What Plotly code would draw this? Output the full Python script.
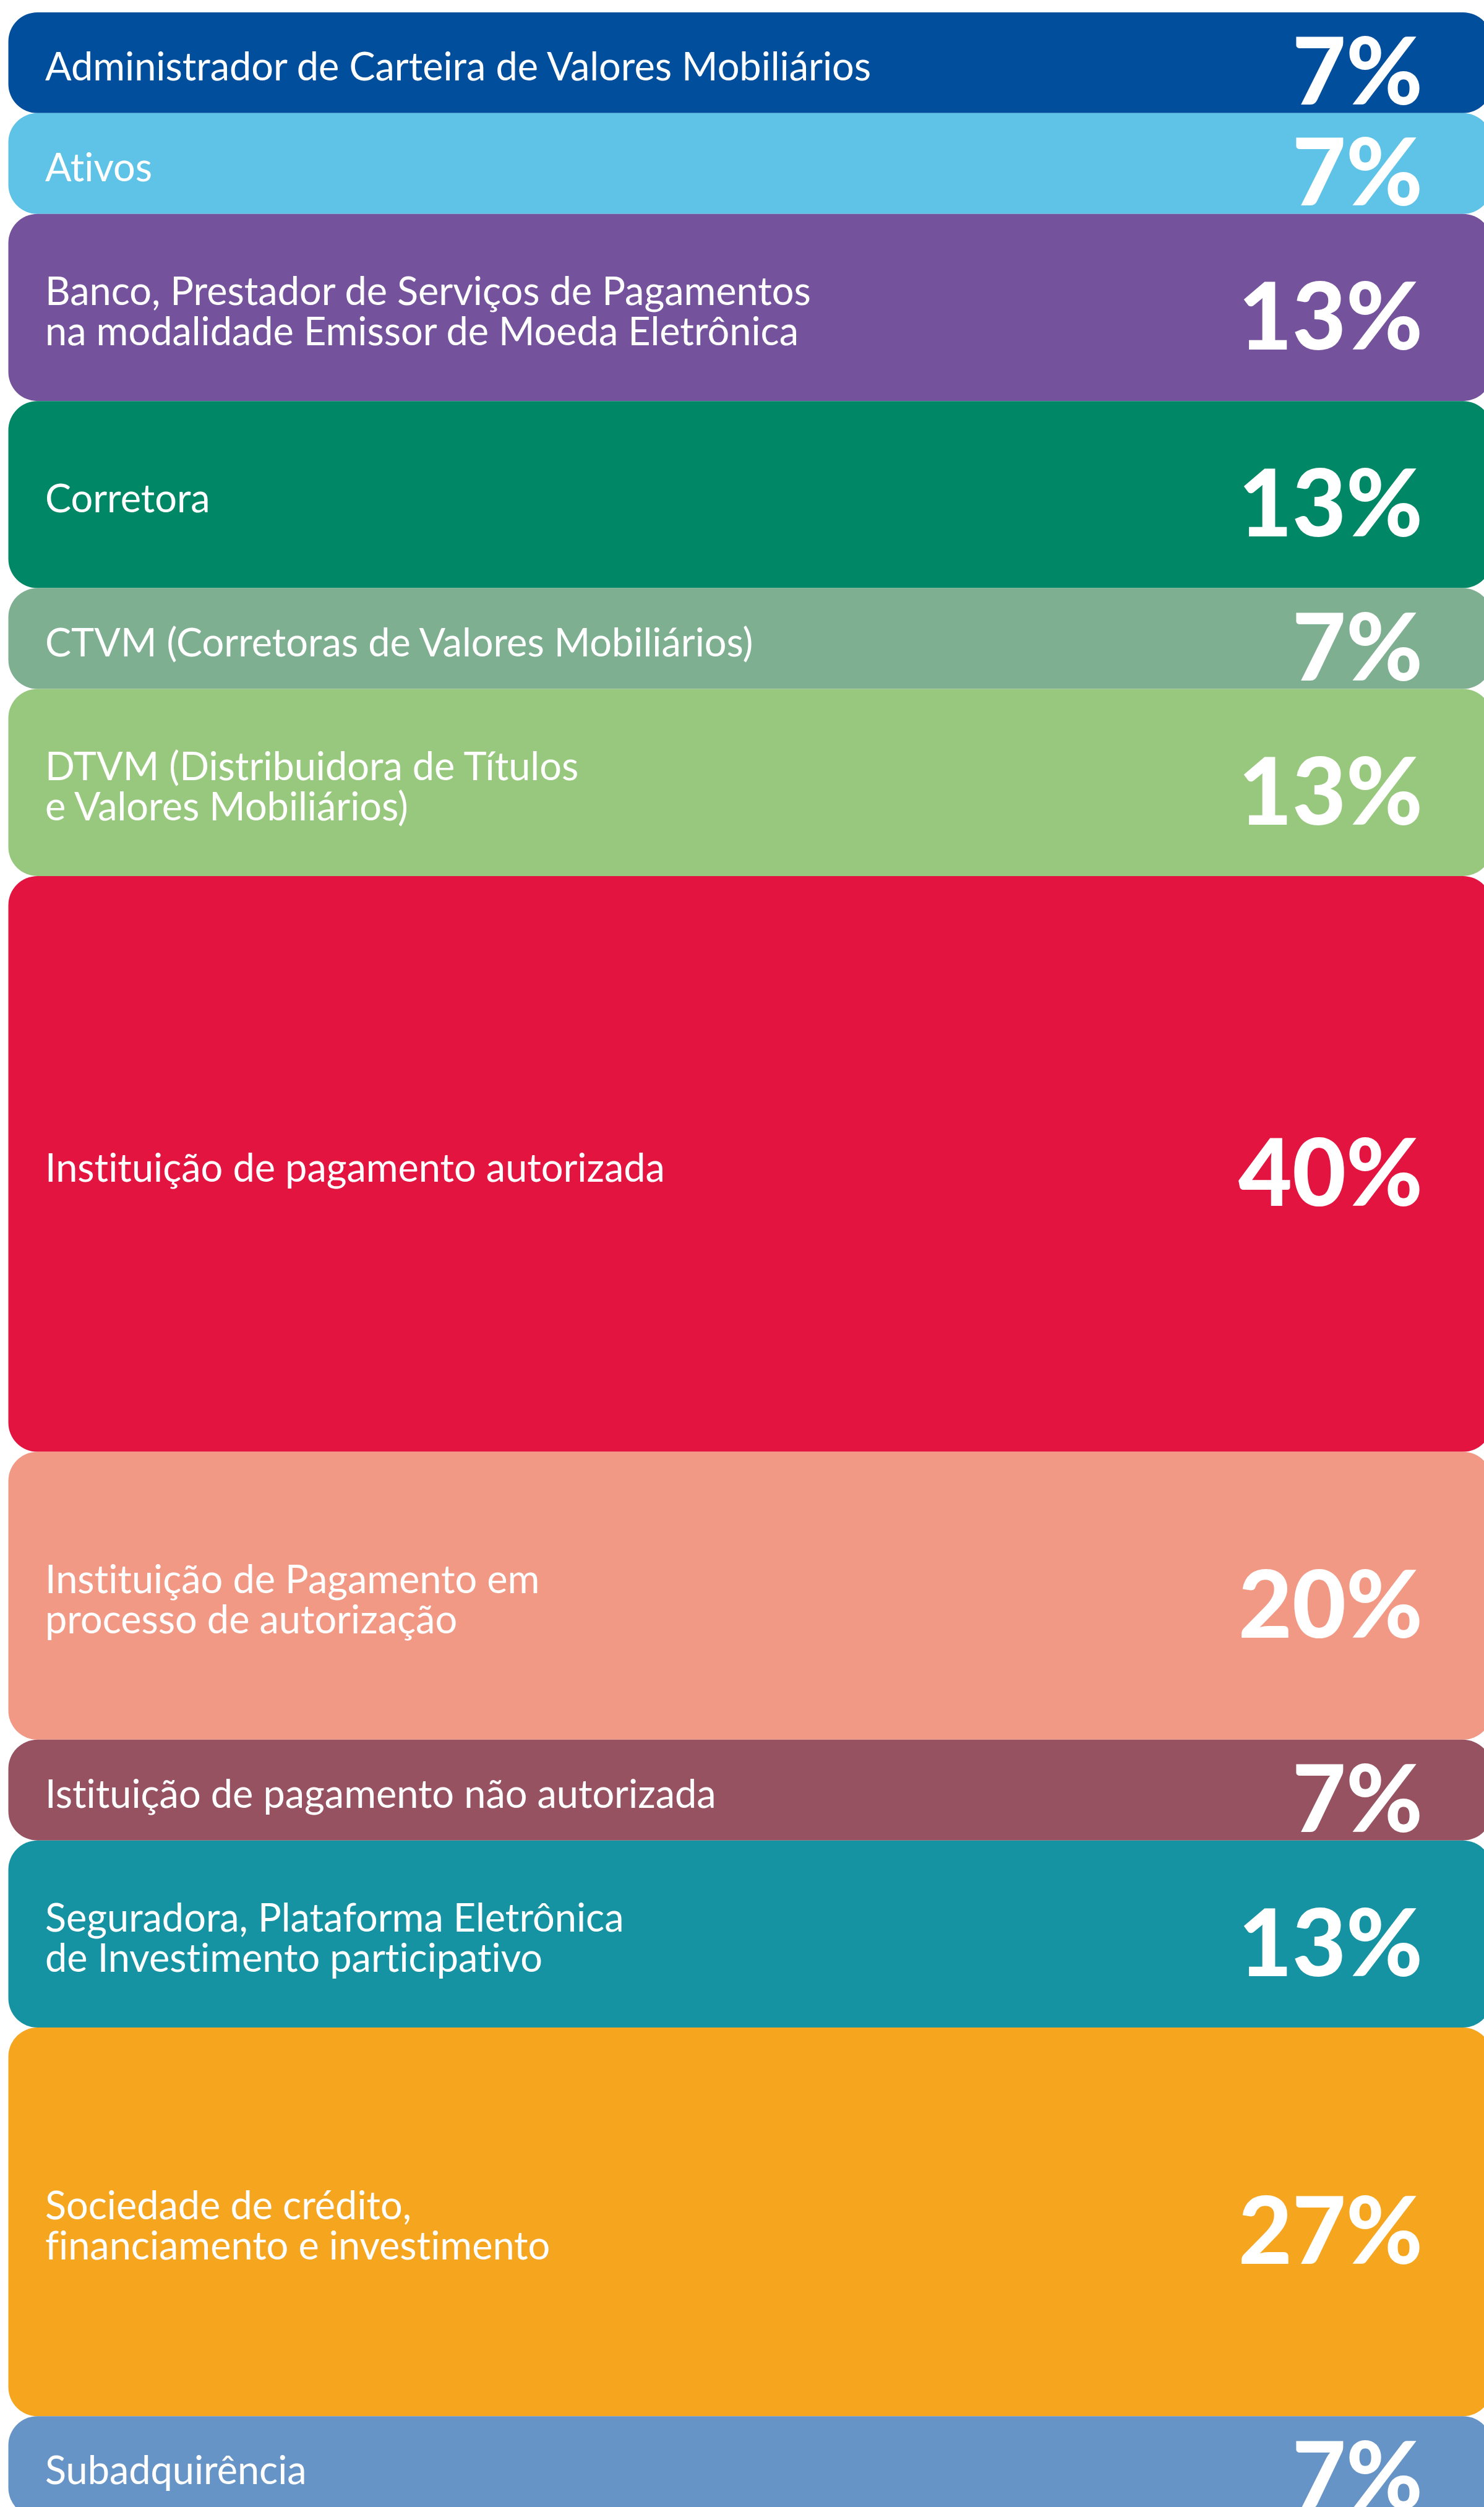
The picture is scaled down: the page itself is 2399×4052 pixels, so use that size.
import plotly.graph_objects as go

# Share of institutions by authorization type (%)
categories = [
    "Administrador de Carteira de Valores Mobiliários",
    "Ativos",
    "Banco, Prestador de Serviços de Pagamentos<br>na modalidade Emissor de Moeda Eletrônica",
    "Corretora",
    "CTVM (Corretoras de Valores Mobiliários)",
    "DTVM (Distribuidora de Títulos<br>e Valores Mobiliários)",
    "Instituição de pagamento autorizada",
    "Instituição de Pagamento em<br>processo de autorização",
    "Istituição de pagamento não autorizada",
    "Seguradora, Plataforma Eletrônica<br>de Investimento participativo",
    "Sociedade de crédito,<br>financiamento e investimento",
    "Subadquirência",
]
values = [7, 7, 13, 13, 7, 13, 40, 20, 7, 13, 27, 7]
colors = [
    "#014E9D", "#5EC3E6", "#75539C", "#008866", "#7FAF91", "#98C87D",
    "#E41440", "#F29985", "#965261", "#1693A2", "#F6A51F", "#6794C6",
]

W, H = 2399, 4052
TOP_PX, PX_PER_UNIT = 20, 23.265
LEFT_PX, RIGHT_PX = 13.5, 2412

# stacked positions: each block is as tall as its share
centers = []
acc = 0
for v in values:
    centers.append(acc + v / 2)
    acc += v

fig = go.Figure()
fig.add_trace(go.Bar(
    orientation="h",
    y=centers,
    x=[RIGHT_PX - LEFT_PX] * len(values),
    base=LEFT_PX,
    width=values,
    marker=dict(color=colors, line=dict(width=0), cornerradius=47),
    hoverinfo="skip",
    showlegend=False,
))

LABEL_FONT = dict(family="Lato", size=63, color="white")
PCT_FONT = dict(family="Lato", size=150, color="white", weight=900)
LINE_GAP = 65


def no_ligature(s):
    # keep "t"+"i"/"f"+"i" pairs as separate glyphs
    return s.replace("ti", "t\u200ci").replace("fi", "f\u200ci")


annotations = []
for cat, v, c in zip(categories, values, centers):
    lines = cat.split("<br>")
    n = len(lines)
    for i, line in enumerate(lines):
        offset = (i - (n - 1) / 2) * LINE_GAP
        annotations.append(dict(
            x=71, y=c, xref="x", yref="y", text=no_ligature(line),
            showarrow=False, xanchor="left", yanchor="middle",
            yshift=-offset - 4, font=LABEL_FONT,
        ))
    annotations.append(dict(
        x=2302, y=c, xref="x", yref="y", text=f"{v}%", showarrow=False,
        xanchor="right", yanchor="middle", yshift=-10,
        font=PCT_FONT,
    ))

y_top = -TOP_PX / PX_PER_UNIT
y_bottom = (H - TOP_PX) / PX_PER_UNIT

fig.update_layout(
    width=W, height=H,
    margin=dict(l=0, r=0, t=0, b=0),
    paper_bgcolor="white", plot_bgcolor="white",
    xaxis=dict(range=[0, W], visible=False, fixedrange=True),
    yaxis=dict(range=[y_bottom, y_top], visible=False, fixedrange=True),
    annotations=annotations,
    barmode="overlay",
)

fig.write_html("out.html")
